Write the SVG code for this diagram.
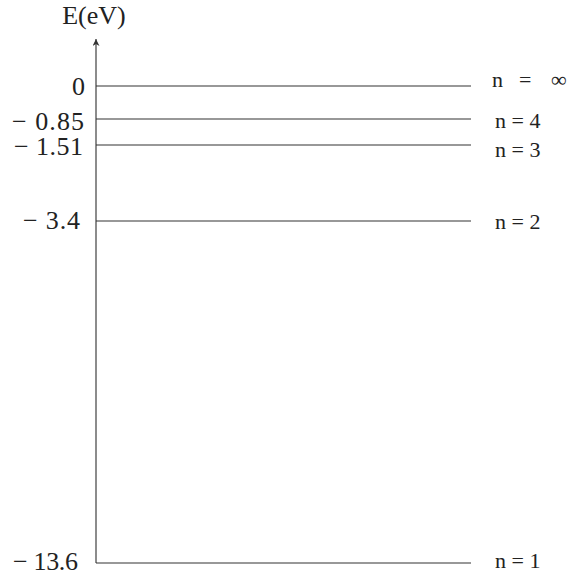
<svg xmlns="http://www.w3.org/2000/svg" width="569" height="575" viewBox="0 0 569 575">
<style>
text{font-family:'Liberation Serif','DejaVu Serif',serif;fill:#222}
.v{font-size:26px;text-anchor:end}
.n{font-size:22px}
.lvl{stroke:#333;stroke-width:1.2}
</style>
<defs>
<marker id="ah" viewBox="0 0 10 10" refX="5" refY="0" markerWidth="7" markerHeight="9" orient="0" markerUnits="userSpaceOnUse">
<path d="M0,10 L5,0 L10,10 L5,7 Z" fill="#333"/>
</marker>
</defs>
<rect width="569" height="575" fill="#fff"/>
<g id="axis">
<line x1="96" y1="563" x2="96" y2="39" stroke="#666" stroke-width="1.5" marker-end="url(#ah)"/>
<text x="94" y="24" style="font-size:26px;text-anchor:middle">E(eV)</text>
</g>
<g id="level-inf">
<line class="lvl" x1="96" y1="86" x2="471" y2="86"/>
<text class="v" x="85" y="95">0</text>
<text class="n" x="492" y="87">n</text>
<text class="n" x="519" y="87">=</text>
<text class="n" x="551" y="87">∞</text>
</g>
<g id="level-4">
<line class="lvl" x1="96" y1="119" x2="471" y2="119"/>
<text class="v" x="84" y="130" textLength="72">− 0.85</text>
<text class="n" x="495" y="128">n = 4</text>
</g>
<g id="level-3">
<line class="lvl" x1="96" y1="145" x2="471" y2="145"/>
<text class="v" x="83" y="155" textLength="69">− 1.51</text>
<text class="n" x="495" y="157">n = 3</text>
</g>
<g id="level-2">
<line class="lvl" x1="96" y1="221" x2="471" y2="221"/>
<text class="v" x="80" y="229" textLength="57">− 3.4</text>
<text class="n" x="495" y="229">n = 2</text>
</g>
<g id="level-1">
<line class="lvl" x1="96" y1="563" x2="471" y2="563"/>
<text class="v" x="78" y="570" textLength="65">− 13.6</text>
<text class="n" x="495" y="568">n = 1</text>
</g>
</svg>
